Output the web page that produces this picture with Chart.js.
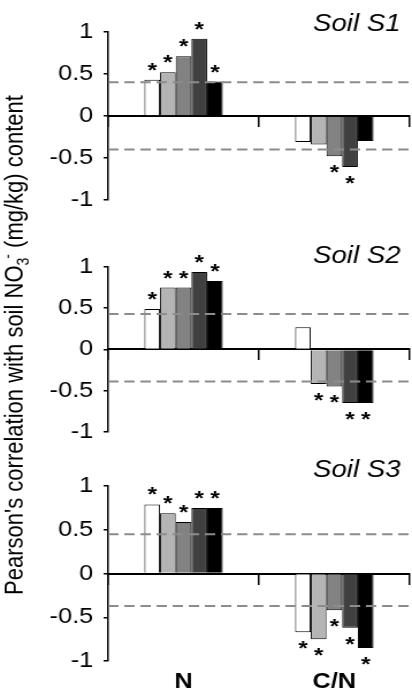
<!DOCTYPE html>
<html>
<head>
<meta charset="utf-8">
<script src="https://cdn.jsdelivr.net/npm/chart.js@4.4.0/dist/chart.umd.min.js"></script>
<style>
  html, body { margin: 0; padding: 0; background: #fff; overflow: hidden; }
  #stage {
    position: absolute; left: 0; top: 0; width: 358px; height: 692px;
    transform: scaleX(1.1508); transform-origin: 0 0;
  }
  #stage canvas { position: absolute; left: 0; }
  #ytitle {
    position: absolute; left: -287px; top: 332px; width: 600px; height: 26px;
    line-height: 26px; text-align: center; white-space: nowrap;
    font: 22px "Liberation Sans", Arial, sans-serif; color: #000;
    transform: rotate(-90deg);
  }
  #ytitle .sub { font-size: 14px; position: relative; top: 5px; }
  #ytitle .sup { font-size: 14px; position: relative; top: -9px; margin-left: -1px; }
</style>
</head>
<body>
<div id="stage">
  <canvas id="s1" width="358" height="222" style="top:0px"></canvas>
  <canvas id="s2" width="358" height="232" style="top:222px"></canvas>
  <canvas id="s3" width="358" height="238" style="top:454px"></canvas>
  <div id="ytitle">Pearson's correlation with soil NO<span class="sub">3</span><span class="sup">-</span> (mg/kg) content</div>
</div>
<script>
const categories = ['N', 'C/N'];
const seriesNames = ['Series 1', 'Series 2', 'Series 3', 'Series 4', 'Series 5'];
const barColors = ['#ffffff', '#b4b4b4', '#828282', '#404040', '#000000'];

// one row per series: [N, C/N]
const s1Values = [
  [0.43, -0.31],
  [0.52, -0.34],
  [0.71, -0.48],
  [0.92, -0.61],
  [0.41, -0.30],
];
const s1Signif = [[1, 0], [1, 0], [1, 1], [1, 1], [1, 0]];
const s1Limits = [0.40, -0.40];

const s2Values = [
  [0.49, 0.27],
  [0.75, -0.42],
  [0.75, -0.45],
  [0.94, -0.65],
  [0.83, -0.65],
];
const s2Signif = [[1, 0], [1, 1], [1, 1], [1, 1], [1, 1]];
const s2Limits = [0.43, -0.39];

const s3Values = [
  [0.79, -0.67],
  [0.69, -0.75],
  [0.59, -0.42],
  [0.75, -0.62],
  [0.75, -0.85],
];
const s3Signif = [[1, 1], [1, 1], [1, 1], [1, 1], [1, 1]];
const s3Limits = [0.45, -0.37];

const FONT = '"Liberation Sans", Arial, sans-serif';

// dashed significance limits, asterisks and the panel name
function makeDeco(signif, limits, title, titleDy) {
  return {
    id: 'panelDeco',
    afterDatasetsDraw(chart) {
      const ctx = chart.ctx;
      const area = chart.chartArea;
      const y = chart.scales.y;
      ctx.save();
      ctx.strokeStyle = '#8c8c8c';
      ctx.lineWidth = 2;
      ctx.setLineDash([9, 5]);
      limits.forEach(v => {
        const py = y.getPixelForValue(v);
        ctx.beginPath();
        ctx.moveTo(area.left, py);
        ctx.lineTo(chart.width, py);
        ctx.stroke();
      });
      ctx.setLineDash([]);

      ctx.fillStyle = '#000';
      ctx.font = 'bold 21px ' + FONT;
      ctx.textAlign = 'center';
      ctx.textBaseline = 'alphabetic';
      chart.data.datasets.forEach((ds, i) => {
        const meta = chart.getDatasetMeta(i);
        meta.data.forEach((bar, j) => {
          if (!signif[i][j]) return;
          const v = ds.data[j];
          ctx.fillText('*', bar.x, v >= 0 ? bar.y - 3 : bar.y + 23);
        });
      });

      ctx.font = 'italic 24px ' + FONT;
      ctx.textAlign = 'right';
      ctx.fillText(title, area.right - 8, area.top + titleDy);
      ctx.restore();
    }
  };
}

function buildPanel(id, values, signif, limits, title, titleDy, padding, showLabels) {
  const datasets = values.map((vals, i) => ({
    label: seriesNames[i],
    data: vals,
    backgroundColor: barColors[i],
    borderColor: '#000',
    borderWidth: 1,
    barPercentage: 1,
    categoryPercentage: 0.52
  }));

  const scales = {
    x: {
      position: { y: 0 },
      ticks: { display: false },
      grid: { drawOnChartArea: false, color: '#000', tickLength: 10, lineWidth: 1.5 },
      border: { color: '#000', width: 2 }
    },
    y: {
      min: -1,
      max: 1,
      afterFit: s => { s.width = 94; },
      ticks: {
        stepSize: 0.5,
        padding: 9,
        color: '#000',
        font: { family: FONT, size: 22 },
        callback: v => String(v)
      },
      grid: { drawOnChartArea: false, color: '#000', tickLength: 4, lineWidth: 1.5 },
      border: { color: '#000', width: 1.5 }
    }
  };
  if (showLabels) {
    scales.x2 = {
      type: 'category',
      labels: categories,
      position: 'bottom',
      offset: true,
      afterFit: s => { s.height = 31; },
      grid: { display: false, drawTicks: false },
      border: { display: false },
      ticks: { color: '#000', padding: 8, font: { family: FONT, size: 22, weight: 'bold' } }
    };
  }

  new Chart(document.getElementById(id), {
    type: 'bar',
    data: { labels: categories, datasets: datasets },
    options: {
      responsive: false,
      animation: false,
      layout: { padding: padding },
      plugins: { legend: { display: false }, tooltip: { enabled: false } },
      scales: scales
    },
    plugins: [makeDeco(signif, limits, title, titleDy)]
  });
}

buildPanel('s1', s1Values, s1Signif, s1Limits, 'Soil S1', -1, { top: 32, bottom: 16, left: 0, right: 2 }, false);
buildPanel('s2', s2Values, s2Signif, s2Limits, 'Soil S2', -4, { top: 45, bottom: 16, left: 0, right: 2 }, false);
buildPanel('s3', s3Values, s3Signif, s3Limits, 'Soil S3', -9, { top: 32, bottom: 0, left: 0, right: 2 }, true);
</script>
</body>
</html>
